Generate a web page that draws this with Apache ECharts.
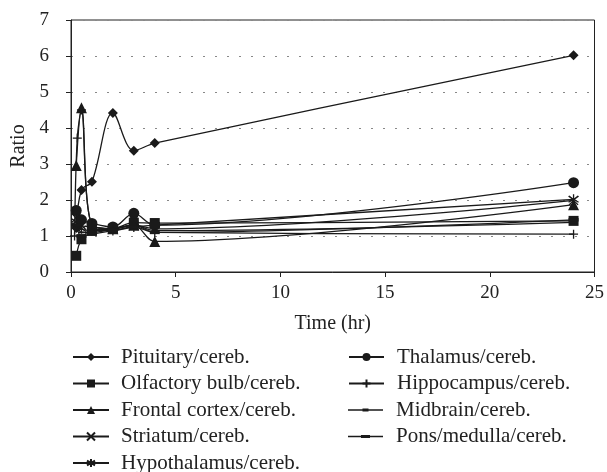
<!DOCTYPE html>
<html><head><meta charset="utf-8">
<script src="https://cdn.jsdelivr.net/npm/echarts@6/dist/echarts.min.js"></script>
<style>html,body{margin:0;padding:0;background:#fff}#c{width:607px;height:472px}</style>
</head><body><div id="c"></div>
<script>
// Time points (hr)
const times = [0.25, 0.5, 1, 2, 3, 4, 24];
const hippoTimes = [0.17, 0.3, 0.5, 1, 2, 3, 4, 24];

// Ratios
const pituitary    = [1.22, 2.28, 2.51, 4.42, 3.37, 3.58, 6.02];
const olfactory    = [0.45, 0.91, 1.17, 1.20, 1.37, 1.36, 1.42];
const frontal      = [2.96, 4.56, 1.30, 1.20, 1.30, 0.85, 1.87];
const striatum     = [1.50, 1.30, 1.25, 1.20, 1.30, 1.20, 1.99];
const hypothalamus = [1.40, 1.20, 1.15, 1.15, 1.25, 1.30, 2.02];
const thalamus     = [1.71, 1.45, 1.35, 1.25, 1.63, 1.30, 2.48];
const hippocampus  = [1.00, 3.72, 4.50, 1.30, 1.20, 1.30, 1.10, 1.05];
const midbrain     = [1.60, 1.10, 1.10, 1.20, 1.30, 1.15, 1.38];
const pons         = [1.30, 1.00, 1.05, 1.15, 1.25, 1.10, 1.45];

const names = ['Pituitary/cereb.','Olfactory bulb/cereb.','Frontal cortex/cereb.','Striatum/cereb.','Hypothalamus/cereb.',
               'Thalamus/cereb.','Hippocampus/cereb.','Midbrain/cereb.','Pons/medulla/cereb.'];

const xTicks = [0,5,10,15,20,25];
const yTicks = [0,1,2,3,4,5,6,7];

const font = 'Liberation Serif';
const pair = (xs, ys) => xs.map((x,i)=>[x, ys[i]]);

function mk(name, xs, ys, symbol, size, stroke, keep) {
  return {
    name, type:'line', data: pair(xs, ys), smooth: 0.35,
    symbol, symbolSize: size, showSymbol: true, symbolKeepAspect: !!keep,
    lineStyle: {color:'#1a1a1a', width:1.3},
    itemStyle: stroke ? {color:'#1a1a1a', borderColor:'#1a1a1a', borderWidth:1.3}
                      : {color:'#1a1a1a', borderColor:'#1a1a1a', borderWidth:0},
    emphasis:{disabled:true}, animation:false, z: 3
  };
}

const crossPath = 'path://M0,0L10,10M10,0L0,10';
const starPath = 'path://M5,0L5,10M0,2L10,8M10,2L0,8';
const plusPath = 'path://M5,0L5,10M0,5L10,5';
const dashSmall = 'path://M0,0L10,0L10,3L0,3Z';
const dashBig = 'path://M0,0L10,0L10,3.5L0,3.5Z';
// legend icons (line + dash) for the two dash-marker series
const legendDashSmall = 'path://M0,4.35L35,4.35L35,5.65L0,5.65Z M14.5,3.6L20.5,3.6L20.5,6.4L14.5,6.4Z';
const legendDashBig = 'path://M0,4.35L35,4.35L35,5.65L0,5.65Z M13,3.4L22,3.4L22,6.6L13,6.6Z';

const series = [
  mk(names[0], times, pituitary, 'diamond', 10),
  mk(names[1], times, olfactory, 'rect', 10),
  mk(names[2], times, frontal, 'triangle', 11),
  mk(names[3], times, striatum, crossPath, 9, true),
  mk(names[4], times, hypothalamus, starPath, 10, true),
  mk(names[5], times, thalamus, 'circle', 11),
  mk(names[6], hippoTimes, hippocampus, plusPath, 9, true),
  mk(names[7], times, midbrain, dashSmall, 6, false, true),
  mk(names[8], times, pons, dashBig, 10, false, true),
];

// legend rows: centers
const rowY = [357, 383.5, 410, 436.5, 463];
const legends = names.map((n, i) => {
  const left = i < 5;
  const r = left ? i : i - 5;
  const item = {name: n};
  if (i === 7) item.icon = legendDashSmall;
  if (i === 8) item.icon = legendDashBig;
  return {
    orient:'vertical', padding:0, itemGap:0, selectedMode:false, symbolKeepAspect:true,
    left: left ? 72 : 348, top: rowY[r] - 11,
    itemWidth: left ? 36 : 35, itemHeight: 10,
    textStyle:{fontFamily:font, fontSize:21, color:'#222', padding:[0,0,0,left?7:8], lineHeight:22},
    data:[item]
  };
});

const chart = echarts.init(document.getElementById('c'), null, {renderer:'canvas'});
chart.setOption({
  backgroundColor:'#fff',
  animation:false,
  grid:{left:71, right:11, top:20, bottom:200, show:true, borderColor:'#222', borderWidth:1, backgroundColor:'transparent'},
  xAxis:{
    type:'value', min:0, max:25, interval:5,
    name:'Time (hr)', nameLocation:'middle', nameGap:42,
    nameTextStyle:{fontFamily:font, fontSize:20, color:'#222'},
    axisLine:{show:true, lineStyle:{color:'#222', width:1}},
    axisTick:{show:true, inside:false, length:5, lineStyle:{color:'#222'}},
    axisLabel:{fontFamily:font, fontSize:19, color:'#222', margin:12, formatter:v=>xTicks.includes(v)?String(v):''},
    splitLine:{show:false}
  },
  yAxis:{
    type:'value', min:0, max:7, interval:1,
    name:'Ratio', nameLocation:'middle', nameGap:37, nameRotate:90,
    nameTextStyle:{fontFamily:font, fontSize:20, color:'#222'},
    axisLine:{show:true, lineStyle:{color:'#222', width:1}},
    axisTick:{show:true, inside:false, length:5, lineStyle:{color:'#222'}},
    axisLabel:{fontFamily:font, fontSize:19, color:'#222', margin:22, formatter:v=>yTicks.includes(v)?String(v):''},
    splitLine:{show:true, lineStyle:{color:'#888', type:[2,10], width:1.2}}
  },
  legend: legends,
  series
});
</script></body></html>
